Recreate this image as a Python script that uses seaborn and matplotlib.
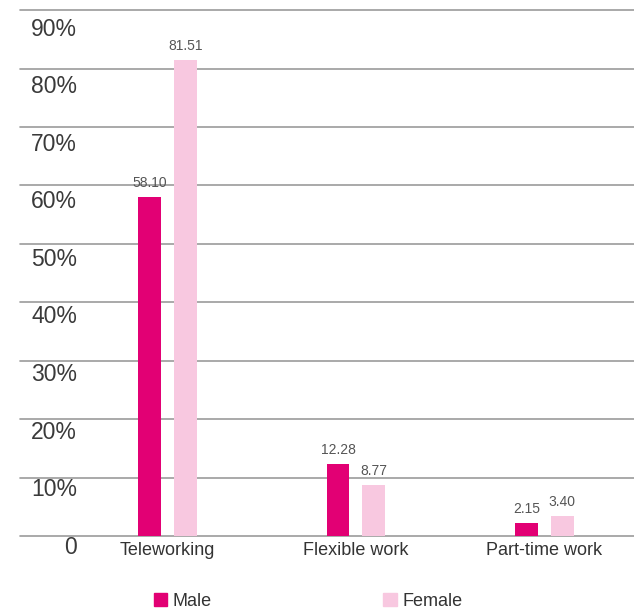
import matplotlib
matplotlib.use("Agg")
import matplotlib.pyplot as plt
from matplotlib.patches import Patch
import pandas as pd
import seaborn as sns

# --- data ---
categories = ["Teleworking", "Flexible work", "Part-time work"]
male = [58.10, 12.28, 2.15]
female = [81.51, 8.77, 3.40]
y_ticks = [0, 10, 20, 30, 40, 50, 60, 70, 80, 90]
y_labels = ["0", "10%", "20%", "30%", "40%", "50%", "60%", "70%", "80%", "90%"]

MAGENTA = "#E20074"
PINK = "#F8C8E0"

df = pd.DataFrame({
    "category": categories * 2,
    "sex": ["Male"] * len(male) + ["Female"] * len(female),
    "value": male + female,
})

sns.set_style("white")
plt.rcParams["font.family"] = ["Liberation Sans", "DejaVu Sans"]

fig = plt.figure(figsize=(6.34, 6.15), dpi=100)
ax = fig.add_axes([20 / 634, 79 / 615, 614 / 634, 523.5 / 615])

sns.barplot(
    data=df, x="category", y="value", hue="sex",
    palette={"Male": MAGENTA, "Female": PINK},
    width=0.38, gap=0.36, saturation=1, legend=False, ax=ax, zorder=2,
    linewidth=0, edgecolor="none",
)

# value labels above bars
for cont in ax.containers:
    ax.bar_label(cont, fmt="%.2f", padding=5, fontsize=10, color="#555555",
                 family=["Liberation Sans Narrow", "Liberation Sans", "DejaVu Sans"])

# horizontal rules
for v in y_ticks:
    ax.axhline(v, color="#9b9b9b", lw=1.2, zorder=0.5, clip_on=False)

# y labels sit just below each rule
for v, lab in zip(y_ticks, y_labels):
    ax.text(0.093, v * 0.985 - 1.9, lab, transform=ax.get_yaxis_transform(),
            ha="right", va="center", fontsize=16.5, color="#3a3a3a")

ax.set_xlim(-0.782, 2.475)
ax.set_ylim(0, 89.6)
ax.set_yticks([])
ax.set_xlabel("")
ax.set_ylabel("")
ax.tick_params(axis="x", length=0, pad=4, labelsize=13, labelcolor="#333333")
for s in ax.spines.values():
    s.set_visible(False)

handles = [Patch(color=MAGENTA), Patch(color=PINK)]
leg = fig.legend(handles, ["Male", "Female"], loc="center",
                 bbox_to_anchor=(308 / 634, 14 / 615), ncol=2, frameon=False,
                 fontsize=13, handlelength=0.75, handleheight=0.75,
                 handletextpad=0.3, columnspacing=9.5)
for t in leg.get_texts():
    t.set_color("#333333")

fig.savefig("out.png", dpi=100)
